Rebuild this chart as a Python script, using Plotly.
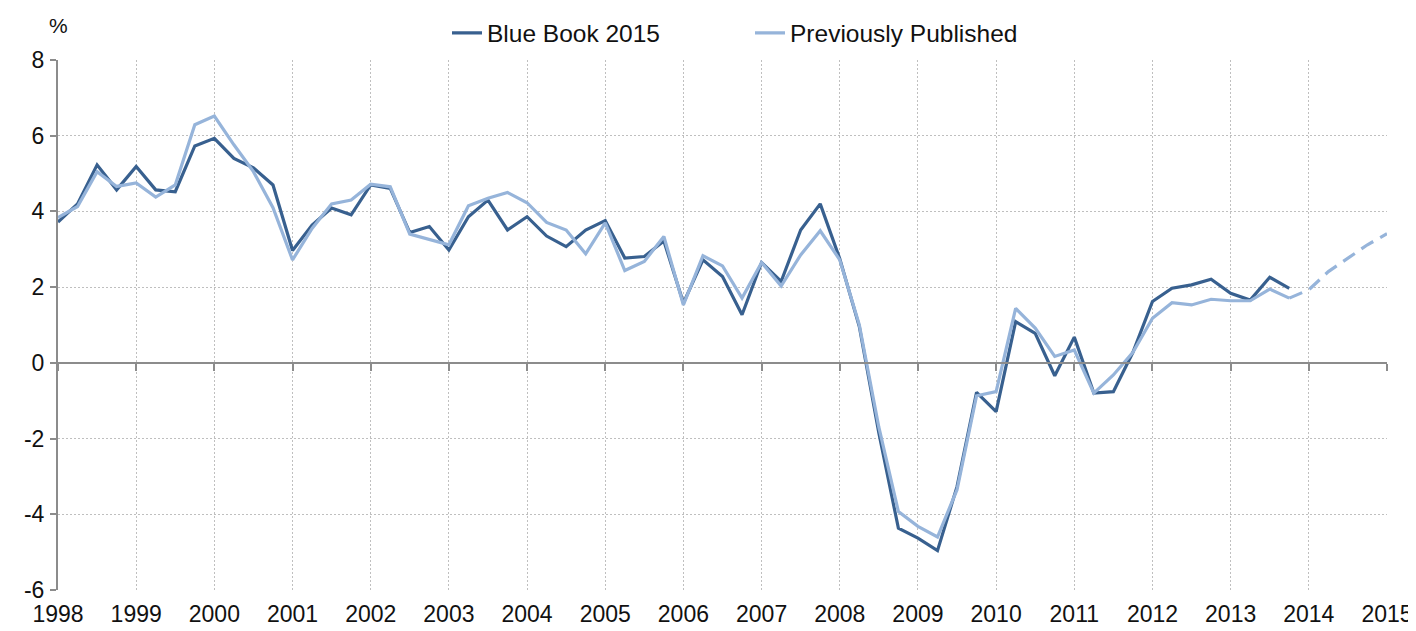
import plotly.graph_objects as go

# ---------------- data ----------------
start_year = 1998
blue_book_2015 = [
    3.72, 4.20, 5.23, 4.57,   # 1998
    5.19, 4.57, 4.52, 5.73,   # 1999
    5.93, 5.40, 5.15, 4.70,   # 2000
    2.97, 3.64, 4.09, 3.91,   # 2001
    4.70, 4.61, 3.44, 3.60,   # 2002
    2.98, 3.86, 4.30, 3.51,   # 2003
    3.86, 3.35, 3.07, 3.51,   # 2004
    3.76, 2.77, 2.81, 3.22,   # 2005
    1.58, 2.72, 2.28, 1.27,   # 2006
    2.65, 2.15, 3.51, 4.20,   # 2007
    2.75, 0.96, -1.85, -4.37, # 2008
    -4.63, -4.96, -3.27, -0.78, # 2009
    -1.29, 1.09, 0.78, -0.34, # 2010
    0.68, -0.80, -0.76, 0.28, # 2011
    1.62, 1.97, 2.06, 2.21,   # 2012
    1.84, 1.66, 2.26, 1.97,   # 2013
]
previously_published = [
    3.84, 4.13, 5.05, 4.66,
    4.75, 4.38, 4.70, 6.29,
    6.52, 5.76, 5.05, 4.10,
    2.72, 3.55, 4.20, 4.30,
    4.72, 4.65, 3.40, 3.27,
    3.12, 4.15, 4.35, 4.50,
    4.23, 3.71, 3.51, 2.88,
    3.70, 2.44, 2.68, 3.34,
    1.53, 2.83, 2.56, 1.71,
    2.65, 2.03, 2.85, 3.49,
    2.72, 1.00, -1.70, -3.93,
    -4.32, -4.60, -3.35, -0.87,
    -0.76, 1.44, 0.92, 0.17,
    0.34, -0.80, -0.32, 0.28,
    1.18, 1.59, 1.53, 1.68,
    1.64, 1.64, 1.95, 1.71,
]
# dashed continuation of the previously published series (from 2013 Q4 to 2015 Q1)
projection_start_index = 63
previously_published_projection = [1.71, 1.93, 2.41, 2.77, 3.12, 3.41]

year_ticks = list(range(1998, 2016))
y_ticks = [-6, -4, -2, 0, 2, 4, 6, 8]
y_tick_labels = ["-6", "-4", "-2", "0", "2", "4", "6", "8"]

# ---------------- helpers ----------------
def quarter_pos(i):
    return start_year + i / 4.0

x_bb = [quarter_pos(i) for i in range(len(blue_book_2015))]
x_pp = [quarter_pos(i) for i in range(len(previously_published))]
x_proj = [quarter_pos(projection_start_index + i) for i in range(len(previously_published_projection))]

DARK = "#38608F"
LIGHT = "#96B4DA"
AXIS = "#8C8C8C"
GRID = "#BFBFBF"
FONT = "Liberation Sans, Arial, sans-serif"
TXT = "#111111"

# page body has an 8px margin, so the figure is sized to end at the window edge
W, H = 1408, 623
ML, MR, MT, MB = 50, 29, 52, 41
PW = W - ML - MR

fig = go.Figure()
fig.add_trace(go.Scatter(x=x_bb, y=blue_book_2015, mode="lines", name="Blue Book 2015",
                         line=dict(color=DARK, width=3.2)))
fig.add_trace(go.Scatter(x=x_pp, y=previously_published, mode="lines", name="Previously Published",
                         line=dict(color=LIGHT, width=3.2)))
fig.add_trace(go.Scatter(x=x_proj, y=previously_published_projection, mode="lines",
                         showlegend=False, xaxis="x2",
                         line=dict(color=LIGHT, width=3.2, dash="14px,8px")))

zero_pos = (0 - y_ticks[0]) / (y_ticks[-1] - y_ticks[0])

fig.update_layout(
    width=W, height=H,
    margin=dict(l=ML, r=MR, t=MT, b=MB, autoexpand=False),
    paper_bgcolor="white", plot_bgcolor="white",
    font=dict(family=FONT, size=23, color=TXT),
    showlegend=True,
    legend=dict(orientation="h", x=(439 - ML) / PW, xanchor="left", y=1.051, yanchor="middle",
                font=dict(size=24.5), bgcolor="rgba(0,0,0,0)", entrywidth=258,
                entrywidthmode="pixels"),
    xaxis=dict(range=[year_ticks[0], year_ticks[-1]], tickvals=year_ticks,
               ticktext=[str(y) for y in year_ticks], showline=False,
               ticks="outside", ticklen=3, tickcolor="rgba(0,0,0,0)",
               showgrid=True, gridcolor=GRID, gridwidth=1, griddash="2px,2px",
               zeroline=False, tickfont=dict(size=23), automargin=False),
    xaxis2=dict(range=[year_ticks[0], year_ticks[-1]], overlaying="x", anchor="free",
                position=zero_pos, side="bottom", showline=True, linecolor=AXIS, linewidth=2,
                ticks="outside", ticklen=7, tickwidth=1.5, tickcolor=AXIS,
                tickvals=year_ticks, showticklabels=False, showgrid=False, zeroline=False),
    yaxis=dict(range=[y_ticks[0], y_ticks[-1]], tickvals=y_ticks, ticktext=y_tick_labels,
               showline=True, linecolor=AXIS, linewidth=2,
               ticks="outside", ticklen=6, tickwidth=1.5, tickcolor=AXIS,
               ticklabelstandoff=1,
               showgrid=True, gridcolor=GRID, gridwidth=1, griddash="2px,2px",
               zeroline=False, tickfont=dict(size=23), automargin=False),
    annotations=[dict(text="%", xref="paper", yref="paper", x=0, y=1.066,
                      xanchor="center", yanchor="middle", showarrow=False,
                      font=dict(size=21, family=FONT, color=TXT))],
)

fig.write_html("out.html")
